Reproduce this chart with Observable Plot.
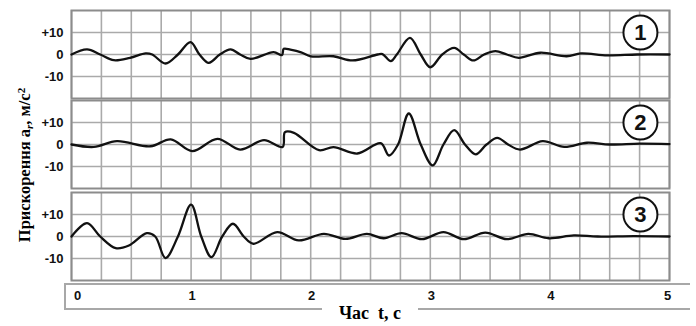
<!DOCTYPE html>
<html><head><meta charset="utf-8">
<script src="https://cdn.jsdelivr.net/npm/d3@7"></script>
<script src="https://cdn.jsdelivr.net/npm/@observablehq/plot@0.6"></script>
<style>
body{margin:0;background:#fff;}
#wrap{position:relative;width:696px;height:326px;overflow:hidden;background:#fff;}
.pl{position:absolute;left:0;}
#xbox{position:absolute;left:64px;top:283px;width:624px;height:23px;border-top:2px solid #a8a8a8;border-left:2px solid #a8a8a8;border-bottom:2px solid #a8a8a8;}
#xtitle{position:absolute;left:322px;width:96px;top:303px;height:20px;line-height:20px;text-align:center;background:#fff;font:bold 18px "Liberation Serif",serif;color:#000;white-space:pre;}
#ytitle{position:absolute;left:-75px;top:155px;width:200px;height:20px;line-height:20px;text-align:center;transform:rotate(-90deg);font:bold 16.5px "Liberation Serif",serif;white-space:nowrap;color:#000;}
#ytitle sub{font-size:11px;vertical-align:-3px;font-style:italic;}
#ytitle sup{font-size:11px;vertical-align:5px;}
</style></head>
<body>
<div id="wrap">
  <div id="xbox"></div>
</div>
<script>
// ---- data (time in s, acceleration in m/s^2) ----
const series1 = [
  [0,0],[0.13,2.3],[0.24,0],[0.354,-2.6],[0.49,-1.5],[0.62,0.5],[0.675,0],[0.786,-4.1],[0.89,0],[0.995,5.6],
  [1.07,0],[1.148,-3.8],[1.24,0],[1.33,2.3],[1.41,0],[1.497,-2.0],[1.69,1.1],[1.76,-0.2],[1.775,2.6],[1.83,2.2],
  [1.92,1.0],[2.0,-0.8],[2.19,-0.8],[2.35,-2.7],[2.56,0],[2.6,0.2],[2.67,-3.0],[2.72,0],[2.83,7.6],[2.92,0],
  [3.0,-5.8],[3.1,0],[3.2,3.0],[3.28,0],[3.36,-2.7],[3.45,0],[3.545,1.5],[3.64,0],[3.74,-1.5],[3.92,0.8],
  [4.14,-0.8],[4.26,0.5],[4.48,-0.4],[4.73,0],[5.0,0]
];
const series2 = [
  [0,0],[0.187,-1.1],[0.38,1.5],[0.66,-0.8],[0.83,2.3],[1.01,-3.0],[1.22,2.6],[1.41,-2.3],[1.61,2.0],[1.765,-1.1],
  [1.785,5.6],[1.86,5.3],[2.07,-2.6],[2.19,-1.2],[2.39,-4.1],[2.585,0.6],[2.655,-5.0],[2.73,0],[2.82,14.1],[2.92,0],
  [3.02,-9.5],[3.11,0],[3.2,6.5],[3.29,0],[3.38,-4.5],[3.47,0],[3.56,3.0],[3.65,0],[3.75,-2.3],[3.94,1.5],
  [4.12,-1.1],[4.31,0.8],[4.5,0],[4.75,0.4],[5.0,0.2]
];
const series3 = [
  [0,0],[0.13,6.1],[0.24,0],[0.37,-5.3],[0.48,-4.1],[0.63,1.5],[0.70,0],[0.786,-9.8],[0.89,0],[1.0,14.5],
  [1.085,0],[1.17,-9.4],[1.26,0],[1.35,5.8],[1.44,0],[1.52,-3.3],[1.72,2.0],[1.90,-1.8],[2.11,1.2],[2.29,-1.1],
  [2.47,1.2],[2.61,-0.8],[2.76,1.5],[2.93,-1.2],[3.11,2.0],[3.28,-1.2],[3.46,1.8],[3.64,-1.2],[3.82,1.2],[3.99,-0.8],
  [4.2,0.5],[4.4,0],[4.7,0.2],[5.0,0]
];
const panelLabels = ["1", "2", "3"];
const yTicks = [10, 0, -10];
const yTickLabels = ["+10", "0", "-10"];
const xTicks = [0, 1, 2, 3, 4, 5];
const xTickLabels = ["0", "1", "2", "3", "4", "5"];
const xTitle = "Час  t, с";

// ---- layout ----
const W = 696, ML = 71, MR = 27;
const panelTops = [6, 96, 188];
const gridColor = "#aaaaaa", frameColor = "#8c8c8c";
const wrap = document.getElementById("wrap");

function makePanel(series, label, top, withX) {
  const data = series.map(([t, v]) => ({t, v}));
  const marks = [
    Plot.gridX(d3.range(0, 5.001, 0.25), {stroke: gridColor, strokeOpacity: 1, strokeWidth: 1.6}),
    Plot.gridY(yTicks, {stroke: gridColor, strokeOpacity: 1, strokeWidth: 1.6}),
    Plot.frame({stroke: frameColor, strokeWidth: 2}),
    Plot.axisY(yTicks, {tickSize: 0, tickPadding: 8, fontSize: 13, fontWeight: "bold", label: null,
      tickFormat: d => yTickLabels[yTicks.indexOf(d)]}),
    Plot.line(data, {x: "t", y: "v", curve: "catmull-rom", stroke: "#111", strokeWidth: 2.3}),
    Plot.dot([{t: 4.757, v: 10}], {x: "t", y: "v", r: 17, fill: "white", stroke: "#111", strokeWidth: 2}),
    Plot.text([{t: 4.757, v: 10, s: label}], {x: "t", y: "v", text: "s", fontSize: 22, fontWeight: "bold", fill: "#111"})
  ];
  if (withX) {
    const fmt = d => xTickLabels[xTicks.indexOf(d)];
    const ax = {tickSize: 0, tickPadding: 10, fontSize: 13, fontWeight: "bold", label: null, tickFormat: fmt};
    marks.push(
      Plot.axisX([0], {...ax, dx: 6}),
      Plot.axisX([1, 2, 3, 4], {...ax, dx: 1}),
      Plot.axisX([5], {...ax, dx: -2})
    );
  }
  const svg = Plot.plot({
    width: W,
    height: withX ? 138 : 96,
    marginLeft: ML, marginRight: MR, marginTop: 4, marginBottom: withX ? 46 : 4,
    x: {domain: [0, 5], axis: null},
    y: {domain: [-20, 20], axis: null},
    style: {background: "transparent", fontFamily: "'Liberation Sans', Arial, sans-serif", color: "#111", overflow: "visible"},
    marks
  });
  svg.classList.add("pl");
  svg.style.position = "absolute";
  svg.style.left = "0px";
  svg.style.top = top + "px";
  wrap.appendChild(svg);
}

makePanel(series1, panelLabels[0], panelTops[0], false);
makePanel(series2, panelLabels[1], panelTops[1], false);
makePanel(series3, panelLabels[2], panelTops[2], true);

const xt = document.createElement("div");
xt.id = "xtitle";
xt.textContent = xTitle;
wrap.appendChild(xt);

const yt = document.createElement("div");
yt.id = "ytitle";
yt.innerHTML = "Прискорення a<sub>r</sub>, м/с<sup>2</sup>";
wrap.appendChild(yt);
</script>
</body></html>
